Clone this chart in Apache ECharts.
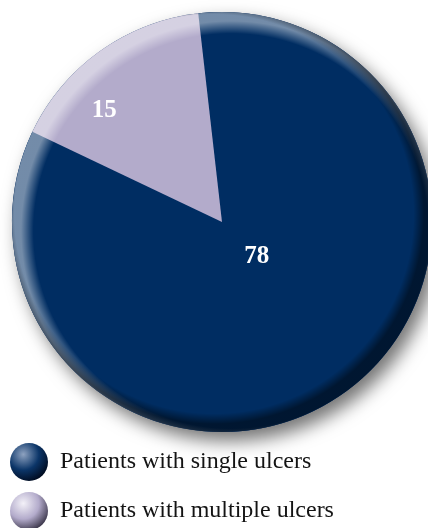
<!DOCTYPE html>
<html>
<head>
<meta charset="utf-8">
<style>
  html, body { margin: 0; padding: 0; background: #ffffff; }
  #chart { width: 428px; height: 528px; }
</style>
<script src="https://cdn.jsdelivr.net/npm/echarts@6/dist/echarts.min.js"></script>
</head>
<body>
<div id="chart"></div>
<script>
// Ulcer counts by patient group
const categories = ['Patients with single ulcers', 'Patients with multiple ulcers'];
const patientCounts = [78, 15];
const sliceColors = ['#002d62', '#b3abcb'];
// Per-label nudges (px) so each number sits where it reads best in its slice
const labelNudges = [[-28, -53], [-55, -24]];

const CX = 222, CY = 222, R = 210;
const wholeDisc = [1];

function sphere(light, mid, dark) {
  return {
    type: 'radial', x: 0.35, y: 0.3, r: 0.75,
    colorStops: [
      { offset: 0, color: light },
      { offset: 0.55, color: mid },
      { offset: 1, color: dark }
    ]
  };
}

const rimLight = {
  type: 'radial', x: CX + 9, y: CY + 9, r: R, global: true,
  colorStops: [
    { offset: 0.94, color: 'rgba(255,255,255,0)' },
    { offset: 1, color: 'rgba(255,255,255,0.45)' }
  ]
};
const rimShade = {
  type: 'radial', x: CX - 8, y: CY - 8, r: R, global: true,
  colorStops: [
    { offset: 0.95, color: 'rgba(0,0,0,0)' },
    { offset: 1, color: 'rgba(0,0,0,0.5)' }
  ]
};

const chart = echarts.init(document.getElementById('chart'), null, { renderer: 'canvas' });

const option = {
  animation: false,
  legend: {
    orient: 'vertical',
    left: 10,
    top: 443,
    height: 120,
    padding: 0,
    itemWidth: 38,
    itemHeight: 38,
    itemGap: 11,
    selectedMode: false,
    icon: 'circle',
    textStyle: {
      fontFamily: 'Liberation Serif',
      fontSize: 24,
      color: '#141414',
      padding: [9, 0, 0, 7]
    },
    data: [
      { name: categories[0], itemStyle: { color: sphere('#8ea2c0', '#0b3568', '#000a1e') } },
      { name: categories[1], itemStyle: { color: sphere('#f3f1f8', '#b3abcb', '#3b364a') } }
    ]
  },
  series: [
    {
      // drop shadow under the disc
      type: 'pie',
      silent: true,
      center: [CX, CY],
      radius: [0, R],
      label: { show: false },
      labelLine: { show: false },
      itemStyle: {
        color: '#002d62',
        shadowColor: 'rgba(0,0,0,0.55)',
        shadowBlur: 18,
        shadowOffsetX: 7,
        shadowOffsetY: 9
      },
      data: wholeDisc.map(v => ({ value: v, name: '' }))
    },
    {
      type: 'pie',
      center: [CX, CY],
      radius: [0, R],
      startAngle: 96.5,
      clockwise: true,
      silent: true,
      label: {
        show: true,
        position: 'inside',
        formatter: '{c}',
        fontFamily: 'Liberation Serif',
        fontWeight: 'bold',
        fontSize: 25,
        color: '#ffffff'
      },
      labelLine: { show: false },
      labelLayout: function (params) {
        const n = labelNudges[params.dataIndex];
        return { dx: n[0], dy: n[1] };
      },
      data: categories.map((name, i) => ({
        name: name,
        value: patientCounts[i],
        itemStyle: { color: sliceColors[i] }
      }))
    },
    {
      type: 'pie',
      silent: true,
      center: [CX, CY],
      radius: [0, R],
      label: { show: false },
      labelLine: { show: false },
      itemStyle: { color: rimLight },
      data: wholeDisc.map(v => ({ value: v, name: '' }))
    },
    {
      type: 'pie',
      silent: true,
      center: [CX, CY],
      radius: [0, R],
      label: { show: false },
      labelLine: { show: false },
      itemStyle: { color: rimShade },
      data: wholeDisc.map(v => ({ value: v, name: '' }))
    }
  ]
};

chart.setOption(option);
</script>
</body>
</html>
